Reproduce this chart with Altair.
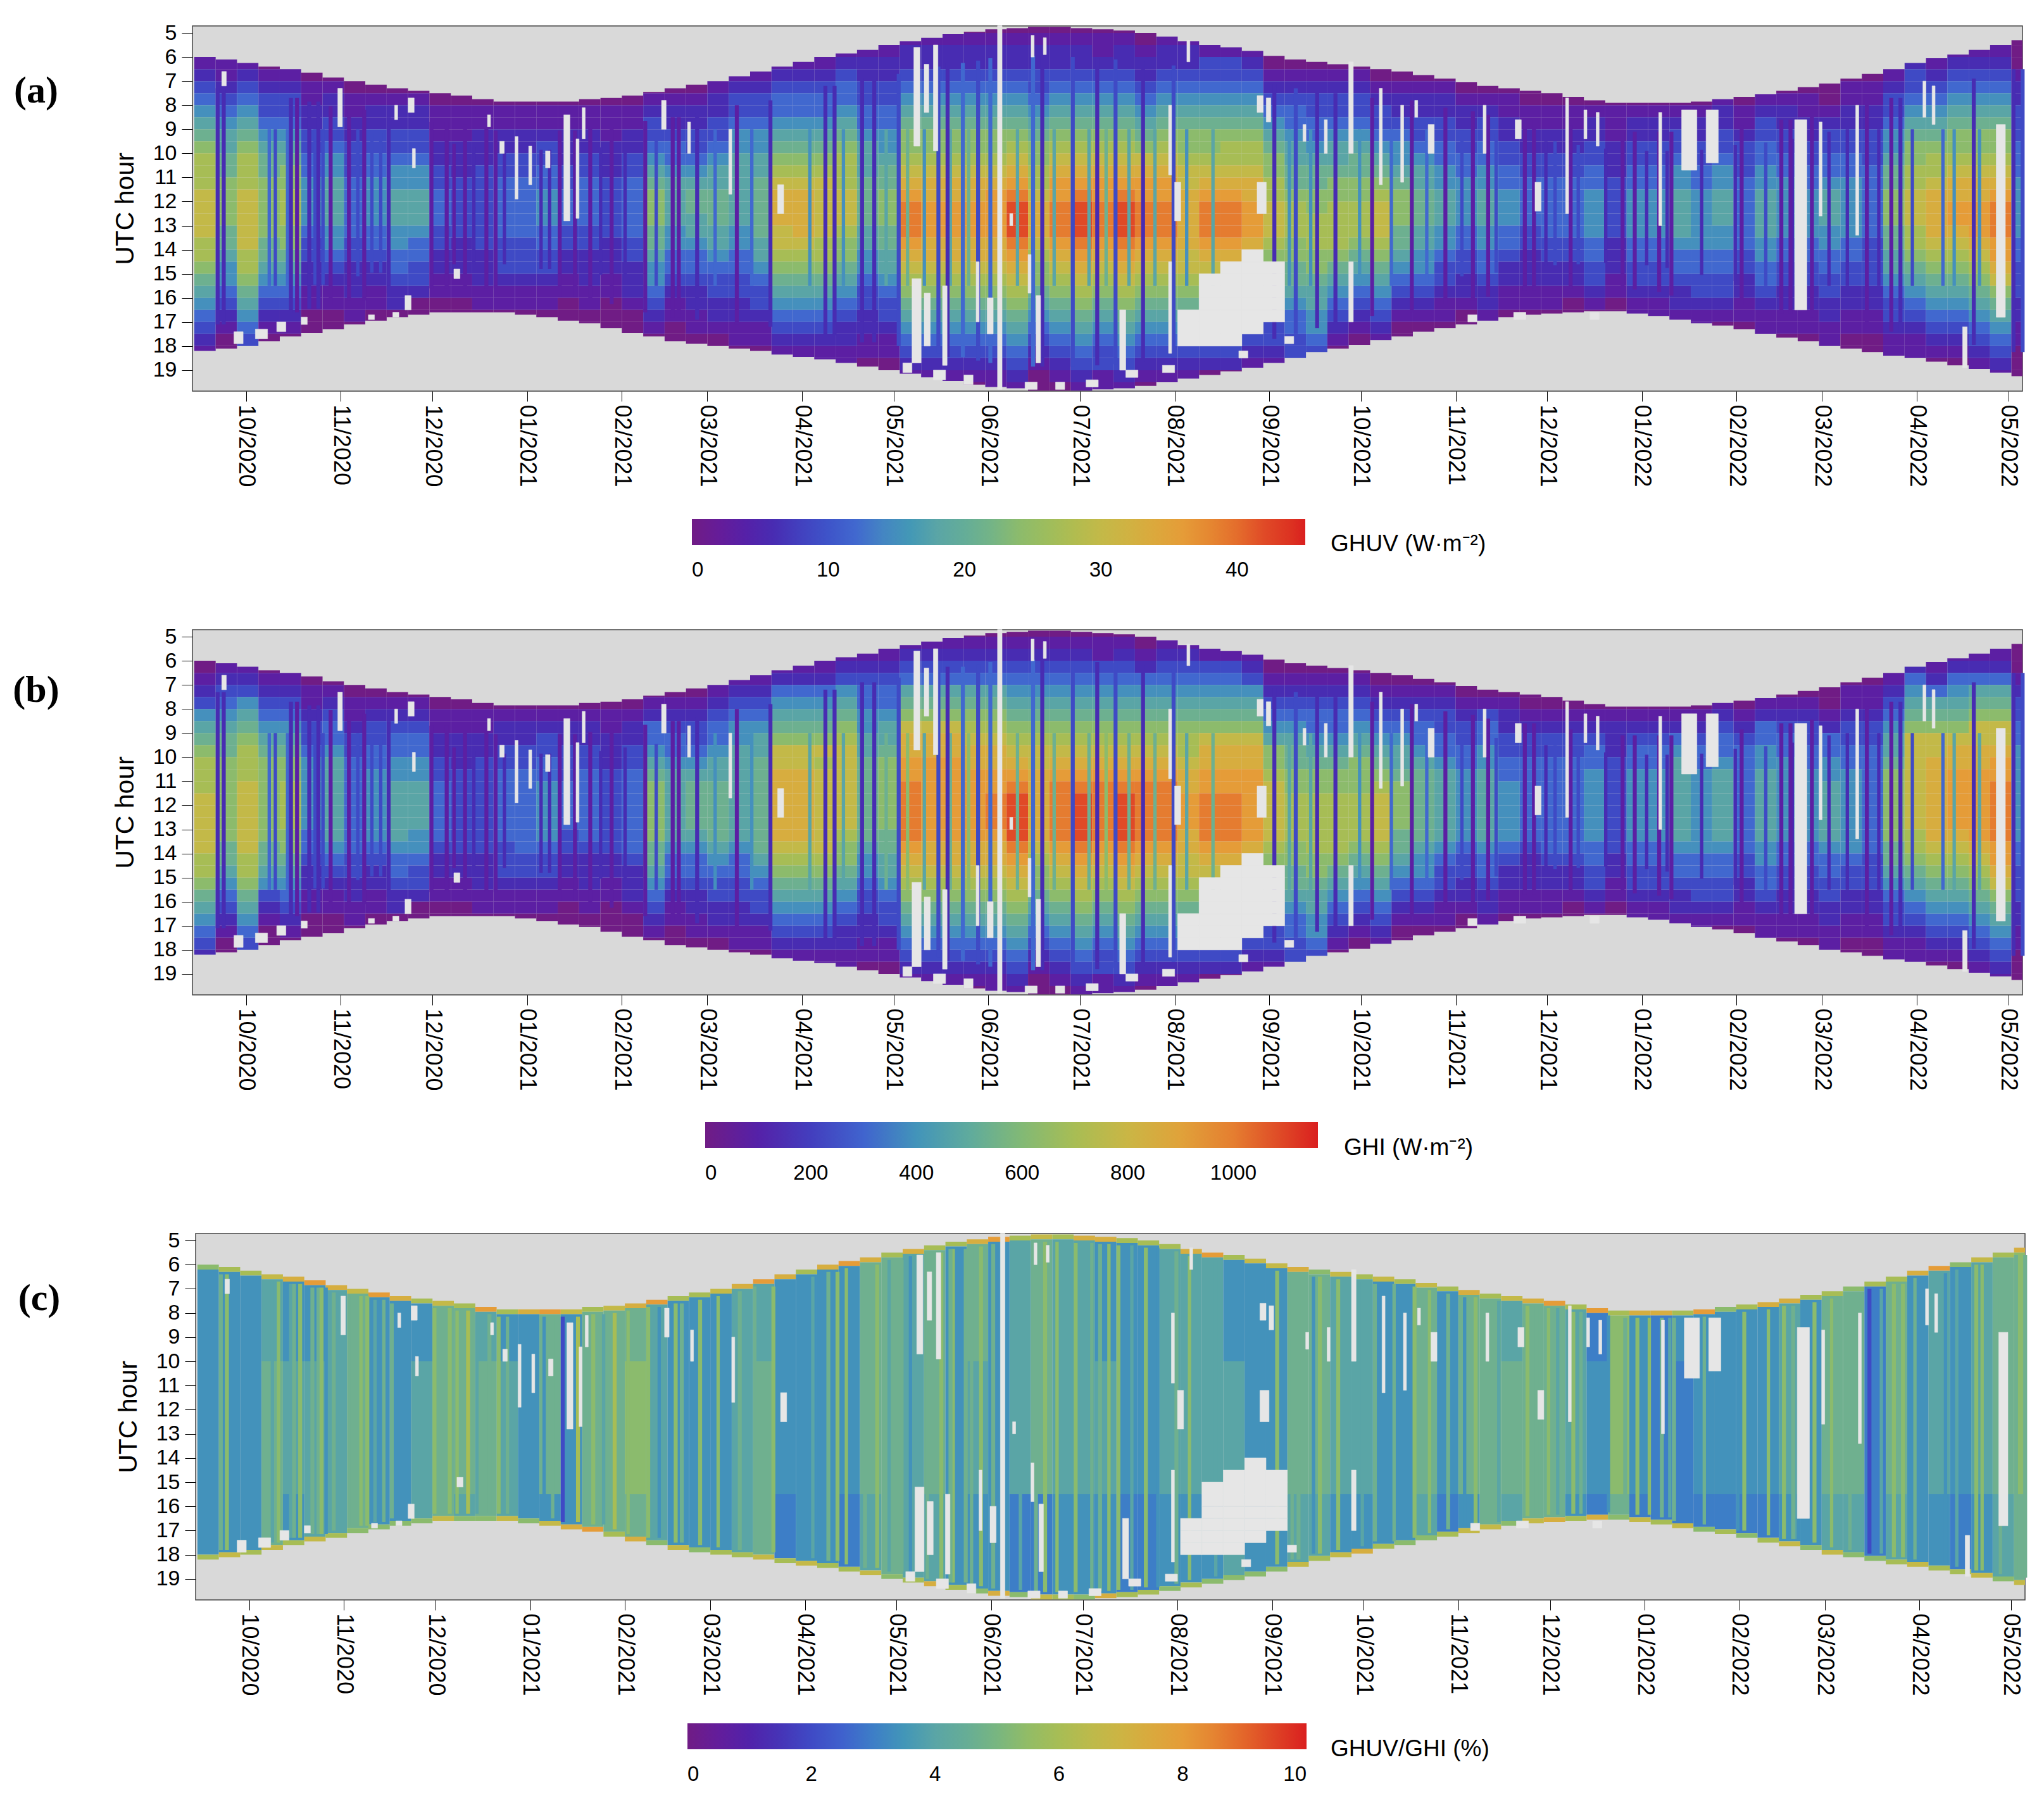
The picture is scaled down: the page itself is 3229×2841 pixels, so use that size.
import json
import altair as alt
import pandas as pd

# day offsets are days since 2020-10-01
X_START, X_END = -17.6, 581.6
FIRST_COLUMN_DAY = -17
TICK_LABELS = ["10/2020","11/2020","12/2020","01/2021","02/2021","03/2021","04/2021","05/2021","06/2021",
               "07/2021","08/2021","09/2021","10/2021","11/2021","12/2021","01/2022","02/2022","03/2022",
               "04/2022","05/2022"]
TICK_DAYS = [0,31,61,92,123,151,182,212,243,273,304,335,365,396,426,457,488,516,547,577]
HOURS = list(range(5, 20))

RISE = [6.0,6.1,6.25,6.4,6.5,6.65,6.85,7.0,7.15,7.3,7.4,7.5,7.6,7.75,7.85,7.85,7.85,7.85,7.75,7.7,
        7.6,7.45,7.3,7.15,7.0,6.8,6.6,6.4,6.2,6.0,5.85,5.7,5.5,5.35,5.2,5.05,4.95,4.85,4.8,4.75,
        4.75,4.8,4.85,4.9,5.0,5.15,5.35,5.5,5.6,5.75,5.95,6.1,6.2,6.3,6.4,6.5,6.6,6.75,6.9,7.05,
        7.2,7.3,7.4,7.5,7.65,7.8,7.9,7.9,7.9,7.9,7.85,7.75,7.65,7.55,7.4,7.25,7.1,6.9,6.7,6.5,
        6.25,6.05,5.9,5.7,5.5,5.3]
SET = [18.2,18.1,18.0,17.8,17.6,17.45,17.3,17.1,16.95,16.8,16.7,16.6,16.6,16.6,16.6,16.7,16.8,16.95,17.05,17.25,
       17.45,17.6,17.8,17.9,18.0,18.1,18.2,18.35,18.45,18.55,18.7,18.85,19.0,19.15,19.3,19.45,19.6,19.7,19.75,19.85,
       19.85,19.85,19.8,19.75,19.65,19.5,19.35,19.2,19.05,18.9,18.7,18.5,18.25,18.1,17.95,17.75,17.6,17.4,17.25,17.1,
       16.95,16.8,16.7,16.65,16.6,16.55,16.55,16.65,16.75,16.9,17.05,17.15,17.3,17.5,17.65,17.8,18.0,18.1,18.25,18.4,
       18.5,18.65,18.8,18.95,19.1,19.25]

# hex levels by half hour: left of | runs up to 12:00, right of | from 12:00; - is missing
GHUV = ["012345678999a|aaa99876543210","0112345667788|887765543210","012345678999a|aaaa99876543210","012334567788|88877654321",
"012334567889|9988765432100","01122334455|5543322110","01223345566|6655432110","0112233344|44433222110","0122334455|5544322110",
"0122334556|665544322","0122334556|66544332","011122334|44332211","011122233|3332221100","011222333|3333222110",
"011223344|4443332110","011223344|4443332110","011233445|5544332110","011222334|4433221100","011223344|4433222110",
"011122233|33322211000","011223344|44433222100","0123345678|887765543210","0122344566|66554432110","0122334567|76654432211",
"01223345667|77665433221","012334556666|6655443322110","012334556677|7776654332110","01234456789ab|bbaa9876543211",
"01234456789ab|bbba98765432110","01234456789aa|aaa998765432110","0123445678999a|aa9887654322110","01223344566677|77665543322110",
"01223344556778|88776654332110","12234567889abc|dddcba98765432100","12234567889abb|cccbba98765432100","12234567889abb|cccbba98765432100",
"012234567889abb|cccbba9876543210","012234567889abc|cccbba9876543211","01223456789abcd|eeedcba987654321","01223345678899a|bbba98876543210",
"01223456789abcc|dddcba9876543210","01223456789abcd|eeedcba987654321","01123456789abcc|dddcba9876543311","01223456789abcd|eeedcba987654321",
"0122345678abcc|dddcba98765432100","1223456789abcc|dddcba9876543210","12234567889aab|bbbbaa987---32100","1334567889abc|dddcba------320",
"1334567899abc|dddcb-------32","1234567899abb|cccb-------321","012345678899|aaa98-----33210","012344566778|9998877654433221",
"012334456778|8999887665543322","012334566788|99998765432100","012334567788|9998765432100","01233456789|aaa9876543210",
"01223455678|88776543210","01223345667|77665543210","01223344556|66554332110","0122334455|5544332210","0123344556|665544322110",
"0112233445|55443221100","011223344|44332221100","011223344|444332211","011223344|44433221","012233445|555443321","011122233|33322211",
"012233445|5554433211","012233445|55544332110","012334556|666544322110","012233445|555544332110","0122334556|66554433210",
"011233344|444433221100","0123344556|666554432110","0122334455|5554433221100","0112233445|5554433221100","012334456|66554433221100",
"01122334455|55544332211","01122333444|44433332211","012334556778|88776654332110","0123345678899a|aa9987654321100","01234567899ab|bbba9876543210",
"01234567889abb|ccba987654321","1234567889abb|cccba98765432100","1234567889abc|dddccba87654321","12233344455|5554433322110"]

GHI = ["01235678999a|aaaa99876543210","0123456778888|888776543210","01235678999aa|aaaa9987654310","012345678888|8887765321",
"012345678899|9988765432100","01123345555|5544322110","01234456666|6665432110","0112334444|44443322110","0123344555|5554322110",
"0123445566|666544322","0123445566|66554332","011223344|44432211","011222333|3333221100","011223333|3333222110",
"012233444|4443332110","012233444|4444332110","012334455|5554332110","012233344|4433221100","012233444|4443222110",
"011222333|33332211000","012233444|44443222100","0124456788|888776543210","0123445666|66654432110","0123345677|77654432211",
"01234456677|77765433221","012345566666|6665443322110","012345667777|7777654332110","01245678aabbb|bbba9876543211",
"01245678aabbb|bbba98765432110","01245678a9aaa|aaaa98765432110","012356789aaaaa|aa9887654322110","01234455667777|77765543322110",
"01234456678888|88776654332110","1234678abbccdd|dddcba98765432100","1234678abbcccc|cccbba98765432100","1234678abbcccc|cccbba98765432100",
"012346789abbccc|cccbba9876543210","012346789abbccd|ddcbba9876543211","0123456789abcde|eeedcba987654321","0123456789aabbb|bbba98876543210",
"0123456789abcdd|dddcba9876543210","0123456789abcde|eeedcba987654321","0113456789abcdd|dddcba9876543311","0123456789abcde|eeedcba987654321",
"012456789abcdd|dddcba98765432100","123456789abcdd|dddcba9876543210","1234567899abbc|ccbbaa987---32100","1345678abbccd|dddcba------320",
"1345678abbccd|dddcb-------32","1235678abbccc|cccb-------321","0123456889aa|aaa98-----33210","012345677889|9998877654433221",
"012344567889|9999887665543322","012344567889|99998765432100","012345678889|9998765432100","0123456789a|aaa9876543210",
"01234566788|88776543210","01234456777|77765543210","01233445666|66654332110","0123344555|5554332210","0134455666|666544322110",
"0122334455|55543221100","012334444|44432221100","012334444|444432211","012334444|44443221","012344555|555443321","012223333|33332211",
"012344555|5554433211","012344555|55544332110","012456666|666544322110","012344555|555544332110","0123445666|66654433210",
"012344444|444433221100","0124455666|666554432110","0123445555|5554433221100","0123344555|5554433221100","012445566|66654433221100",
"01123344555|55554332211","01123344444|44443332211","012345667888|88877654332110","01245678aaaaaa|aa9987654321100","0124678aabbbb|bbba9876543210",
"01245678abbccc|ccba987654321","124678aabbccc|cccba98765432100","124678aabccdd|dddccba87654321","12334455555|5554433322110"]

# GHUV/GHI by week: morning, midday, evening, and thin sunrise and sunset edges, as levels into RATIO_VALUES
RATIO_VALUES = [0, .7, 1.3, 2, 3, 3.4, 4, 4.7, 5.3, 6, 6.7, 7.3, 8, 8.7, 9.3, 10]
RATIO_UP =   "5556556755"+"5776557577"+"7655566555"+"5776757567"+"6655566655"+"5776655757"+"7677648545"+"5555657747"+"565678"
RATIO_MID =  "5557666755"+"6777657577"+"8655567555"+"5776756567"+"6665566665"+"5776655757"+"7777658544"+"5555657747"+"565678"
RATIO_LOW =  "5557566755"+"6767655577"+"7655567455"+"4676655544"+"5554455565"+"5665555645"+"7677547444"+"4444556646"+"554567"
RATIO_TOP =  "899abcbacb"+"9a9c9bca9a"+"bc99abcb9b"+"cb9b99bc9a"+"9bb999bc9a"+"ab8a9a9a9b"+"9abc9c9bb9"+"c89bb99899"+"bc8a9b"
RATIO_BOT =  "9a9a9a9888"+"8a88a8abc9"+"b8a899a9a9"+"9a89b98b8a"+"98b9989888"+"8a9ab9889a"+"a8ab9b8a9a"+"8989a8a889"+"a99a8a"

# single days of heavy cloud
STREAK_DAY = [-10,-8,14,16,20,23,27,33,38,46,60,65,71,78,81,102,107,112,119,130,139,141,147,160,171,189,192,201,205,213,
              226,229,234,239,243,257,260,270,278,284,293,303,336,343,350,356,368,381,392,401,406,418,421,433,450,454,
              462,466,489,502,505,512,530,538,541,565,578,581]
STREAK_GHUV = "22212"+"21112"+"11111"+"11111"+"11212"+"22223"+"32434"+"42323"+"23232"+"21111"+"11111"+"11111"+"11112"+"223"
STREAK_GHI =  "22212"+"21112"+"11111"+"11111"+"11212"+"22223"+"32434"+"42323"+"23232"+"21111"+"11111"+"11111"+"11112"+"223"
STREAK_RATIO ="78787"+"87787"+"88978"+"39898"+"87878"+"78787"+"87787"+"78878"+"87878"+"87878"+"78787"+"87788"+"78388"+"877"

# days of broken cloud, drawn around midday only in the first two panels
BROKEN_DAY = [7,9,13,22,24.6,36,40.6,43.5,67.5,74,84,96,98.8,115.5,123.5,133.7,
              153,165,184,195,209,216,221.5,230,236,252,264,270,275.4,281,288.5,297,307.4,316,341,348,
              364,374.4,386,397.5,408.7,425,428,435.6,444.6,458,464.7,476,487,497,505.7,517.7,523.7,534,545,555,558.7,567,573]
BROKEN_GHUV = "4343333312222223"+"44556756766667665655"+"54433233222223222234556"
BROKEN_GHI =  "4343333312222223"+"55667867877778776766"+"54433233222223222234667"
BROKEN_RATIO ="6867586786757685"+"87686578768578658675"+"67856867586758687675687"

# missing stretches: day, length in days, first hour, last hour
GAP_DAY =  [30,-8,88,104,110,108,79,83,92.5,98,48.6,53,54.4,68,52,246,218.6,222,225,218,222,228,174,158,144.5,136,302,304,302,308,
            331,331,334,346,353,257,261,239,242.6,250,256,258.6,286,361,361,371,378,382.6,387,405,415.5,432,438,442,422,470,478,462.5,
            507,515,527,573,552,549,562,-4,3,10,18,40,48,215,225,235,255,265,275,288,300,325,340,400,415,440]
GAP_LEN =  [1.5,1.5,1,2,1,1,1,1.5,1,1.5,1,2,1,2,2,1.5,2,1.5,1.5,3,2,1.5,2,1,1,1.5,1,2,1,1,
            2,3,1.5,1,1,1,1,1,2,1,1,1.5,2,1.5,1.5,1,1,1,2,1,2,1,1,1,2,5,4,1,
            4,1,1,3,1,1,1.5,3,4,3,2,2,2,3,4,3,4,3,4,4,4,3,3,3,4,3]
GAP_H0 =   [7.3,6.6,9.3,8.4,8.1,9.4,8.4,9.5,9.7,9.9,8,7.7,9.8,14.8,15.9,4.7,5.6,6.3,5.5,15.2,15.8,15.5,11.3,9,8.7,7.8,8,11.2,14.5,5.3,
            7.6,11.2,7.7,8.8,8.6,5.1,5.2,14.5,16,12.5,14.2,15.9,16.5,6.2,14.5,7.3,8,7.8,8.8,8,8.6,7.7,8.2,8.3,11.2,8.2,8.2,8.3,
            8.6,8.7,8,8.8,7.2,7,17.2,17.4,17.3,17,16.8,16.7,16.6,18.7,19,19.2,19.5,19.5,19.4,19,18.8,18.2,17.6,16.7,16.6,16.6]
GAP_H1 =   [8.9,7.2,11.9,12.8,9.4,12.7,8.9,10,11.3,10.6,8.6,8.3,10.6,15.2,16.5,19.8,9.7,8.3,9.9,18.7,18,18.8,12.5,11.7,10,9,10.9,12.8,18.3,6.2,
            8.3,12.5,8.7,9.5,10,6,5.9,17,17.5,13,15.8,18.7,19,10,17,11.3,11.2,8.5,10,10,9.4,12.5,9.4,9.7,12.4,10.7,10.4,13,
            16.5,12.6,13.4,16.8,8.8,8.5,18.9,17.9,17.7,17.4,17.1,16.9,16.8,19.1,19.4,19.6,19.8,19.8,19.7,19.3,19.1,18.5,17.9,17,16.9,16.9]

PALETTE_AT = [0,.07,.12,.2,.27,.32,.4,.47,.53,.6,.67,.73,.8,.87,.93,1]
PALETTE = ["#701c85","#5a1fa5","#4a24ae","#3f4ac5","#4169cf","#4c8abf","#5aa5a6","#6fb08f","#8bbb6d","#a7bd55",
           "#c4b948","#d6ae40","#e59c38","#e57a30","#e04c28","#da1f1f"]
FONT = "Liberation Sans"


def curve_cells(strings, step):
    cells, gaps = [], []
    for k, s in enumerate(strings):
        d0 = FIRST_COLUMN_DAY + 7 * k
        d1 = min(d0 + 7, X_END)
        left, right = s.split("|")
        lo = int(RISE[k] * 2)
        hi = int(SET[k] * 2 + 0.999)
        for row in range(lo, hi):
            i = row - 24
            if i < 0:
                ch = left[i] if -i <= len(left) else "0"
            else:
                ch = right[i] if i < len(right) else "0"
            h0, h1 = max(row / 2, RISE[k]), min(row / 2 + .5, SET[k])
            if ch == "-":
                gaps.append({"d0": d0, "d1": d1, "h0": h0, "h1": h1})
            else:
                cells.append({"d0": d0, "d1": d1, "h0": h0, "h1": h1, "v": int(ch, 16) * step})
    return cells, gaps


def ratio_cells():
    cells = []
    for k in range(len(RISE)):
        d0 = FIRST_COLUMN_DAY + 7 * k
        d1 = min(d0 + 7, X_END)
        r, s = RISE[k], SET[k]
        spans = [(r, r + .2, RATIO_TOP[k]), (r + .2, 10, RATIO_UP[k]), (10, 15.5, RATIO_MID[k]),
                 (15.5, s - .2, RATIO_LOW[k]), (s - .2, s, RATIO_BOT[k])]
        for h0, h1, ch in spans:
            cells.append({"d0": d0, "d1": d1, "h0": h0, "h1": h1, "v": RATIO_VALUES[int(ch, 16)]})
    return cells


def column_of(day):
    return min(max(int((day - FIRST_COLUMN_DAY) // 7), 0), len(RISE) - 1)


def panel(letter, label_y, cells, gaps, streak, broken, level_value, full_height, vmax, title, legend_values,
          legend_x, legend_y, grad_len, title_x, title_y, w, h):
    stops = [p * vmax for p in PALETTE_AT]
    scale = alt.Scale(domain=stops, range=PALETTE, clamp=True)
    x_scale = alt.Scale(domain=[X_START, X_END], nice=False, zero=False)
    y_scale = alt.Scale(domain=[19.87, 4.71], nice=False, zero=False)
    label_map = json.dumps({str(d): t for d, t in zip(TICK_DAYS, TICK_LABELS)})
    x = alt.X("d0:Q", scale=x_scale, title=None,
              axis=alt.Axis(values=TICK_DAYS, labelExpr=f"{label_map}[datum.value]", labelAngle=90, labelFont=FONT,
                            labelFontSize=36, labelColor="black", tickColor="black", tickSize=16, labelPadding=5,
                            grid=False, domain=False, labelOverlap=False, labelFlush=False))
    y = alt.Y("h0:Q", scale=y_scale, title="UTC hour",
              axis=alt.Axis(values=HOURS, format="d", labelFont=FONT, labelFontSize=34, labelColor="black",
                            tickColor="black", tickSize=17, labelPadding=8, grid=False, domain=False,
                            titleFont=FONT, titleFontSize=41, titleFontWeight="normal", titleColor="black",
                            titlePadding=22, labelOverlap=False))
    legend = alt.Legend(orient="none", legendX=legend_x, legendY=legend_y, direction="horizontal", title=None,
                        labelFont=FONT, labelFontSize=33, labelColor="black", labelOffset=24, values=legend_values,
                        labelAlign="center", format="d", labelOverlap=False,
                        gradientLength=grad_len, gradientThickness=41, gradientStrokeWidth=0, type="gradient")
    base = alt.Chart(pd.DataFrame(cells)).mark_rect(strokeWidth=0.7).encode(
        x=x, x2="d1:Q", y=y, y2="h1:Q",
        color=alt.Color("v:Q", scale=scale, legend=legend))

    rows = []
    for d, lv in zip(BROKEN_DAY, broken):
        k = column_of(d)
        if full_height:
            a, b = RISE[k] + .3, SET[k] - .3
        else:
            a, b = max(RISE[k] + 2, 9), min(SET[k] - 2, 15.5)
        rows.append({"d0": d, "d1": d + 1.1, "h0": a, "h1": b, "v": level_value(lv)})
    for d, lv in zip(STREAK_DAY, streak):
        k = column_of(d)
        a, b = (RISE[k] + .3, SET[k] - .3) if full_height else (RISE[k] + 1.2, SET[k] - 1.0)
        rows.append({"d0": d, "d1": d + 1.3, "h0": a, "h1": b, "v": level_value(lv)})
    streaks = alt.Chart(pd.DataFrame(rows)).mark_rect().encode(
        x="d0:Q", x2="d1:Q", y="h0:Q", y2="h1:Q",
        color=alt.Color("v:Q", scale=scale, legend=None))

    gap_rows = list(gaps)
    for d, n, a, b in zip(GAP_DAY, GAP_LEN, GAP_H0, GAP_H1):
        gap_rows.append({"d0": d, "d1": d + n, "h0": a, "h1": b})
    gap_layer = alt.Chart(pd.DataFrame(gap_rows)).mark_rect(color="#e6e6e6", strokeWidth=0.6, stroke="#e6e6e6").encode(
        x="d0:Q", x2="d1:Q", y="h0:Q", y2="h1:Q")

    tag = alt.Chart(pd.DataFrame({"t": [letter]})).mark_text(
        font="Liberation Serif", fontWeight="bold", fontSize=60, color="black", align="center", baseline="middle"
    ).encode(text="t:N", x=alt.value(-247), y=alt.value(label_y))

    scale_title = alt.Chart(pd.DataFrame({"t": [title]})).mark_text(
        font=FONT, fontSize=37, color="black", align="left", baseline="middle"
    ).encode(text="t:N", x=alt.value(title_x), y=alt.value(title_y))

    return alt.layer(base, streaks, gap_layer, tag, scale_title).properties(
        width=w, height=h, view=alt.ViewBackground(fill="#d9d9d9", stroke="#444444", strokeWidth=1.5))


a_cells, a_gaps = curve_cells(GHUV, 3)
b_cells, b_gaps = curve_cells(GHI, 1160 / 15)
A = panel("(a)", 103, a_cells, a_gaps, STREAK_GHUV, BROKEN_GHUV, lambda c: int(c, 16) * 3, False, 45,
          "GHUV (W·m⁻²)", [0, 10, 20, 30, 40], 789, 779, 969, 1798, 819, 2891, 577)
B = panel("(b)", 96, b_cells, b_gaps, STREAK_GHI, BROKEN_GHI, lambda c: int(c, 16) * 1160 / 15, False, 1160,
          "GHI (W·m⁻²)", [0, 200, 400, 600, 800, 1000], 810, 778, 968, 1819, 819, 2891, 577)
C = panel("(c)", 103, ratio_cells(), a_gaps, STREAK_RATIO, BROKEN_RATIO, lambda c: RATIO_VALUES[int(c, 16)], True, 10,
          "GHUV/GHI (%)", [0, 2, 4, 6, 8, 10], 777, 774, 978, 1793, 815, 2890, 579)

spacer = alt.Chart(pd.DataFrame({"t": [0]})).mark_point(opacity=0).encode(
    x=alt.value(0), y=alt.value(0)).properties(width=5, height=1, view=alt.ViewBackground(stroke=None))

lower = alt.hconcat(spacer, C, spacing=0, bounds="flush").resolve_scale(color="independent")
chart = alt.vconcat(A, B, lower, spacing=377, bounds="flush").resolve_scale(color="independent").properties(
    padding={"left": 11, "top": 26, "right": 5, "bottom": 5}, background="white")

chart.save("out.html", embed_options={"renderer": "svg", "actions": False})
